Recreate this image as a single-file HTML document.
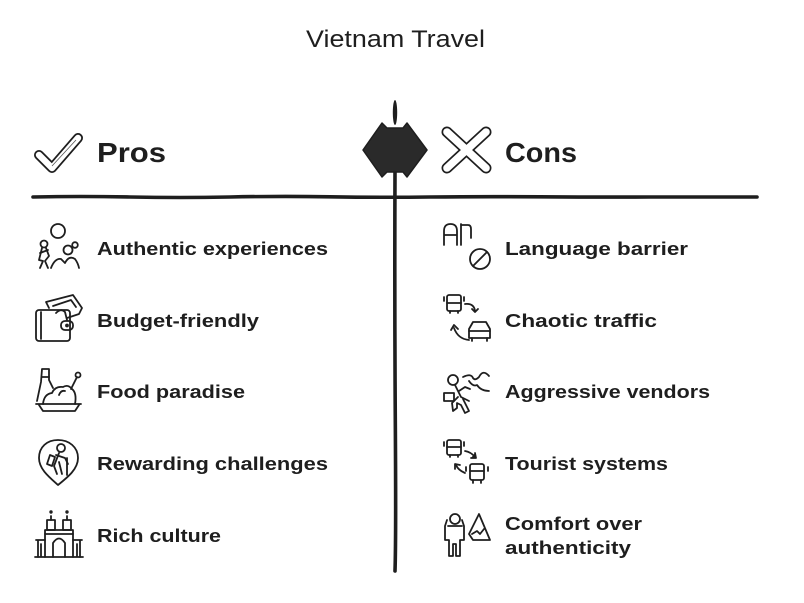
<!DOCTYPE html>
<html>
<head>
<meta charset="utf-8">
<style>
  html,body{margin:0;padding:0;background:#fff;}
  svg{display:block;}
  .t{font-family:"Liberation Sans",sans-serif;fill:#1e1e1e;}
  .b{font-weight:bold;}
  .ic{fill:none;stroke:#1e1e1e;stroke-width:1.8;stroke-linecap:round;stroke-linejoin:round;}
</style>
</head>
<body>
<svg width="804" height="603" viewBox="0 0 804 603" xmlns="http://www.w3.org/2000/svg">
  <rect width="804" height="603" fill="#fff"/>

  <!-- Title -->
  <text class="t" x="306" y="47" font-size="24" textLength="179" lengthAdjust="spacingAndGlyphs">Vietnam Travel</text>

  <!-- Lines -->
  <path d="M33,197 Q80,196 130,197 T230,197 T330,196.8 T430,197 T540,196.8 T650,197 T757,197" stroke="#1e1e1e" stroke-width="3.6" fill="none" stroke-linecap="round"/>
  <path d="M395,172 Q394.5,300 395.3,420 T395,571" stroke="#1e1e1e" stroke-width="3.6" fill="none" stroke-linecap="round"/>
  <ellipse cx="395" cy="112.5" rx="2.2" ry="12.5" fill="#1e1e1e"/>

  <!-- Double arrow -->
  <polygon points="363,150 382,123 387,128 403,128 407,123 427,150 407,177 403,172 387,172 382,177" fill="#2a2a2a" stroke="#1e1e1e" stroke-width="1.5" stroke-linejoin="round"/>

  <!-- Check icon -->
  <g>
    <polyline points="39,155 52,168 78,138" fill="none" stroke="#1e1e1e" stroke-width="10" stroke-linejoin="round" stroke-linecap="round"/>
    <polyline points="39,155 52,168 78,138" fill="none" stroke="#fff" stroke-width="6.4" stroke-linejoin="round" stroke-linecap="round"/>
    <path d="M52,166 L76,140" stroke="#555" stroke-width="0.8" fill="none"/>
  </g>
  <text class="t b" x="97" y="162" font-size="28" textLength="69" lengthAdjust="spacingAndGlyphs">Pros</text>

  <!-- X icon -->
  <g>
    <path d="M447,132 L486,168 M486,132 L447,168" fill="none" stroke="#1e1e1e" stroke-width="11" stroke-linecap="round"/>
    <path d="M447,132 L486,168 M486,132 L447,168" fill="none" stroke="#fff" stroke-width="7.6" stroke-linecap="round"/>
  </g>
  <text class="t b" x="505" y="162" font-size="28" textLength="72" lengthAdjust="spacingAndGlyphs">Cons</text>

  <!-- LEFT ITEMS -->
  <!-- 1 People -->
  <g class="ic" transform="translate(37,223)">
    <circle cx="21" cy="8" r="7"/>
    <circle cx="7" cy="21" r="3.5"/>
    <path d="M5,25 L2,37 L6,38 L3,45"/>
    <path d="M9,25 L12,33 L8,38 L11,45"/>
    <path d="M3,30 L11,27"/>
    <circle cx="31" cy="27" r="4.5"/>
    <circle cx="38" cy="22" r="2.8"/>
    <path d="M14,45 Q18,35 24,36 L28,40 Q32,32 38,36 Q41,40 42,45"/>
  </g>
  <text class="t b" x="97" y="255" font-size="18" textLength="231" lengthAdjust="spacingAndGlyphs">Authentic experiences</text>

  <!-- 2 Wallet -->
  <g class="ic" transform="translate(35,294)">
    <path d="M14,14 L11,8 L38,1 L47,14 L44,20 L32,24"/>
    <path d="M18,12 L36,6 L41,13"/>
    <path d="M21,19 Q26,14 30,18 L32,26"/>
    <rect x="1" y="16" width="34" height="31" rx="3"/>
    <path d="M6,18 L6,45"/>
    <rect x="26" y="27" width="12" height="9" rx="4"/>
    <circle cx="32" cy="31.5" r="1"/>
  </g>
  <text class="t b" x="97" y="327" font-size="18" textLength="162" lengthAdjust="spacingAndGlyphs">Budget-friendly</text>

  <!-- 3 Food -->
  <g class="ic" transform="translate(35,367)">
    <path d="M2,34 L6,15 L7,2 L14,2 L14,13 L18,21"/>
    <path d="M7,10 L14,10"/>
    <path d="M8,37 Q9,27 17,26 Q20,19 28,20 Q33,17 37,22 Q42,26 40,37"/>
    <path d="M24,28 Q26,23 30,24"/>
    <path d="M36,22 L42,10"/>
    <circle cx="43" cy="8" r="2.5"/>
    <path d="M1,37 L46,37"/>
    <path d="M4,38 L8,44 L40,44 L44,38"/>
  </g>
  <text class="t b" x="97" y="398" font-size="18" textLength="148" lengthAdjust="spacingAndGlyphs">Food paradise</text>

  <!-- 4 Pin hiker -->
  <g class="ic" transform="translate(37,438)">
    <path d="M21,47 C12,39 2,31 2,20 C2,9 10,2 21,2 C32,2 41,9 41,20 C41,31 31,39 21,47 Z"/>
    <circle cx="24" cy="10" r="4"/>
    <path d="M22,15 L17,28 L20,36 M22,24 L25,36 M19,17 L28,20 L31,26"/>
    <path d="M30,20 L30,37"/>
    <path d="M13,17 L10,26 L15,28 L18,19 Z"/>
  </g>
  <text class="t b" x="97" y="470" font-size="18" textLength="231" lengthAdjust="spacingAndGlyphs">Rewarding challenges</text>

  <!-- 5 Gate -->
  <g class="ic" transform="translate(35,510)">
    <path d="M0,47 L48,47"/>
    <path d="M10,47 L10,20 L38,20 L38,47"/>
    <path d="M18,47 L18,33 Q24,24 30,33 L30,47"/>
    <rect x="12" y="10" width="8" height="10"/>
    <rect x="28" y="10" width="8" height="10"/>
    <path d="M16,10 L16,6 M32,10 L32,6"/>
    <circle cx="16" cy="2" r="0.8"/>
    <circle cx="32" cy="2" r="0.8"/>
    <path d="M1,30 L10,30 M38,30 L47,30 M3,30 L3,47 M45,30 L45,47 M6,34 L6,46 M42,34 L42,46"/>
    <path d="M10,24 L38,24"/>
  </g>
  <text class="t b" x="97" y="542" font-size="18" textLength="124" lengthAdjust="spacingAndGlyphs">Rich culture</text>

  <!-- RIGHT ITEMS -->
  <!-- 1 Language -->
  <g class="ic" transform="translate(443,223)">
    <path d="M1,22 L1,8 Q1,1 7.5,1 Q14,1 14,8 L14,22 M1,12 L14,12"/>
    <path d="M18,1 L18,22 M18,2 L25,2 Q28,2 28,6 L28,15"/>
    <circle cx="37" cy="36" r="10"/>
    <path d="M30,43 L44,29"/>
  </g>
  <text class="t b" x="505" y="255" font-size="18" textLength="183" lengthAdjust="spacingAndGlyphs">Language barrier</text>

  <!-- 2 Traffic -->
  <g class="ic" transform="translate(443,294)">
    <rect x="4" y="1" width="14" height="16" rx="2"/>
    <path d="M4,9 L18,9 M7,17 L7,19 M15,17 L15,19"/>
    <path d="M1,3 L1,7 M21,3 L21,7"/>
    <path d="M22,10 Q31,9 32,17"/>
    <path d="M29,15 L32,18 L35,15"/>
    <path d="M26,46 Q15,45 11,34"/>
    <path d="M8,36 L11,31 L15,35"/>
    <path d="M26,44 L26,35 L30,28 L43,28 L47,35 L47,44 Z"/>
    <path d="M26,37 L47,37 M29,44 L29,47 M44,44 L44,47"/>
  </g>
  <text class="t b" x="505" y="327" font-size="18" textLength="152" lengthAdjust="spacingAndGlyphs">Chaotic traffic</text>

  <!-- 3 Vendor -->
  <g class="ic" transform="translate(443,367)">
    <circle cx="10" cy="13" r="5"/>
    <path d="M12,18 L18,30 L26,34 M16,24 L22,20 L27,22"/>
    <path d="M15,30 L9,36 L10,44 L14,41 L14,36 L18,38 L22,46 L26,44 L20,32"/>
    <rect x="1" y="26" width="10" height="8"/>
    <path d="M20,10 Q28,6 30,11 Q32,14 36,10 Q40,2 46,9"/>
    <path d="M26,14 Q30,20 34,18 Q38,24 46,24"/>
  </g>
  <text class="t b" x="505" y="398" font-size="18" textLength="205" lengthAdjust="spacingAndGlyphs">Aggressive vendors</text>

  <!-- 4 Tourist systems -->
  <g class="ic" transform="translate(443,438)">
    <rect x="4" y="2" width="14" height="15" rx="2"/>
    <path d="M4,9 L18,9 M7,17 L7,19 M15,17 L15,19"/>
    <path d="M1,4 L1,8 M21,4 L21,8"/>
    <path d="M22,13 Q28,14 32,19"/>
    <path d="M28,20 L33,20 L32,15" fill="#1e1e1e"/>
    <path d="M22,35 Q15,32 13,27"/>
    <path d="M12,31 L12,26 L17,27"/>
    <rect x="27" y="26" width="14" height="16" rx="2"/>
    <path d="M27,33 L41,33 M30,42 L30,45 M38,42 L38,45"/>
    <path d="M23,29 L23,33 M45,29 L45,33"/>
  </g>
  <text class="t b" x="505" y="470" font-size="18" textLength="163" lengthAdjust="spacingAndGlyphs">Tourist systems</text>

  <!-- 5 Comfort -->
  <g class="ic" transform="translate(443,510)">
    <circle cx="12" cy="9" r="5"/>
    <path d="M4,10 L2,16 L2,30 L6,30 L6,46 L10,46 L10,34 L13,34 L13,46 L17,46 L17,30 L21,30 L21,16 L19,10"/>
    <path d="M5,16 L19,16"/>
    <path d="M26,24 L36,4 L47,30 L30,30 Z"/>
    <path d="M29,24 L34,21 L37,24 L41,19"/>
  </g>
  <text class="t b" x="505" y="530" font-size="18" textLength="137" lengthAdjust="spacingAndGlyphs">Comfort over</text>
  <text class="t b" x="505" y="554" font-size="18" textLength="126" lengthAdjust="spacingAndGlyphs">authenticity</text>
</svg>
</body>
</html>
